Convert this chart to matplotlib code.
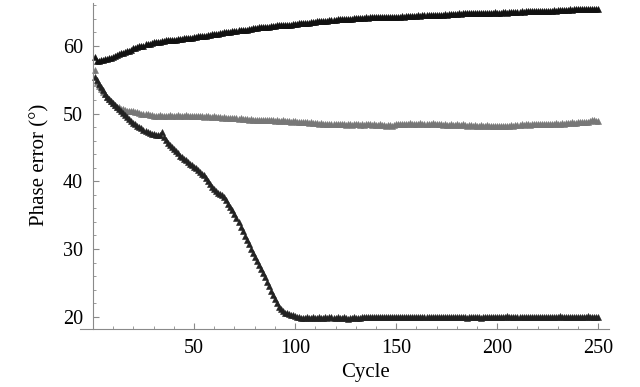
import numpy as np
import matplotlib
matplotlib.use('Agg')
import matplotlib.pyplot as plt
from matplotlib.ticker import MultipleLocator

# phase error per cycle (cycles 1..250)
upper = [58.3, 57.8, 57.8, 57.9, 57.9, 58.0, 58.1, 58.2, 58.2, 58.4,
         58.5, 58.6, 58.8, 59.0, 59.0, 59.1, 59.3, 59.3, 59.4, 59.6,
         59.7, 59.8, 59.9, 60.0, 60.0, 60.2, 60.3, 60.3, 60.4, 60.5,
         60.5, 60.6, 60.6, 60.7, 60.7, 60.8, 60.8, 60.8, 60.9, 60.9,
         60.9, 61.0, 61.0, 61.0, 61.1, 61.1, 61.1, 61.2, 61.2, 61.3,
         61.3, 61.4, 61.4, 61.4, 61.5, 61.5, 61.6, 61.6, 61.7, 61.7,
         61.8, 61.8, 61.9, 61.9, 62.0, 62.0, 62.1, 62.1, 62.2, 62.2,
         62.2, 62.3, 62.3, 62.4, 62.4, 62.4, 62.5, 62.5, 62.6, 62.6,
         62.6, 62.7, 62.7, 62.7, 62.8, 62.8, 62.8, 62.9, 62.9, 62.9,
         63.0, 63.0, 63.0, 63.0, 63.1, 63.1, 63.1, 63.1, 63.2, 63.2,
         63.2, 63.3, 63.3, 63.3, 63.4, 63.4, 63.4, 63.5, 63.5, 63.5,
         63.6, 63.6, 63.6, 63.7, 63.7, 63.7, 63.8, 63.8, 63.8, 63.8,
         63.9, 63.9, 63.9, 63.9, 64.0, 64.0, 64.0, 64.0, 64.1, 64.1,
         64.1, 64.1, 64.1, 64.1, 64.2, 64.1, 64.2, 64.2, 64.2, 64.2,
         64.2, 64.2, 64.2, 64.3, 64.2, 64.3, 64.3, 64.3, 64.3, 64.3,
         64.3, 64.3, 64.4, 64.3, 64.4, 64.4, 64.4, 64.4, 64.4, 64.4,
         64.5, 64.4, 64.5, 64.5, 64.5, 64.5, 64.5, 64.6, 64.5, 64.6,
         64.6, 64.6, 64.6, 64.7, 64.6, 64.7, 64.7, 64.7, 64.7, 64.7,
         64.8, 64.7, 64.8, 64.8, 64.8, 64.8, 64.8, 64.9, 64.8, 64.9,
         64.9, 64.9, 64.9, 64.9, 64.9, 64.9, 64.9, 64.9, 65.0, 64.9,
         64.9, 64.9, 65.0, 65.0, 64.9, 65.0, 65.0, 65.0, 65.0, 65.0,
         65.0, 65.1, 65.0, 65.1, 65.1, 65.1, 65.1, 65.1, 65.1, 65.2,
         65.1, 65.2, 65.2, 65.2, 65.2, 65.2, 65.2, 65.3, 65.2, 65.3,
         65.3, 65.3, 65.3, 65.3, 65.3, 65.4, 65.3, 65.4, 65.4, 65.4,
         65.4, 65.4, 65.4, 65.5, 65.4, 65.5, 65.5, 65.4, 65.5, 65.5]

middle = [56.4, 54.6, 54.0, 53.6, 53.2, 52.9, 52.5, 52.2, 51.9, 51.6,
          51.3, 51.0, 50.9, 50.7, 50.6, 50.5, 50.4, 50.4, 50.3, 50.3,
          50.2, 50.2, 50.1, 50.0, 50.0, 49.9, 49.9, 49.8, 49.8, 49.7,
          49.7, 49.7, 49.8, 49.6, 49.7, 49.7, 49.6, 49.8, 49.7, 49.6,
          49.7, 49.8, 49.7, 49.6, 49.7, 49.8, 49.7, 49.6, 49.7, 49.7,
          49.6, 49.6, 49.7, 49.6, 49.5, 49.6, 49.6, 49.5, 49.5, 49.6,
          49.5, 49.5, 49.5, 49.4, 49.5, 49.4, 49.4, 49.3, 49.4, 49.3,
          49.3, 49.2, 49.3, 49.2, 49.2, 49.2, 49.1, 49.2, 49.1, 49.1,
          49.1, 49.0, 49.1, 49.0, 49.0, 49.1, 49.0, 49.0, 49.0, 48.9,
          49.0, 48.9, 48.9, 49.0, 48.9, 48.9, 48.9, 48.8, 48.9, 48.9,
          48.8, 48.8, 48.7, 48.8, 48.7, 48.7, 48.6, 48.7, 48.6, 48.6,
          48.6, 48.5, 48.6, 48.5, 48.5, 48.5, 48.4, 48.5, 48.5, 48.4,
          48.4, 48.5, 48.4, 48.4, 48.3, 48.4, 48.4, 48.3, 48.4, 48.4,
          48.4, 48.3, 48.4, 48.3, 48.4, 48.5, 48.4, 48.3, 48.4, 48.3,
          48.3, 48.4, 48.3, 48.3, 48.2, 48.3, 48.3, 48.2, 48.3, 48.4,
          48.4, 48.5, 48.4, 48.5, 48.4, 48.5, 48.6, 48.5, 48.4, 48.5,
          48.5, 48.6, 48.5, 48.5, 48.4, 48.5, 48.5, 48.6, 48.5, 48.5,
          48.4, 48.4, 48.3, 48.4, 48.3, 48.3, 48.4, 48.3, 48.3, 48.4,
          48.3, 48.3, 48.4, 48.3, 48.2, 48.3, 48.3, 48.2, 48.3, 48.2,
          48.2, 48.3, 48.2, 48.2, 48.3, 48.2, 48.2, 48.1, 48.2, 48.2,
          48.2, 48.1, 48.2, 48.2, 48.1, 48.2, 48.3, 48.2, 48.3, 48.3,
          48.3, 48.4, 48.3, 48.4, 48.4, 48.3, 48.4, 48.4, 48.5, 48.4,
          48.4, 48.5, 48.4, 48.5, 48.5, 48.4, 48.5, 48.5, 48.6, 48.5,
          48.5, 48.6, 48.5, 48.6, 48.6, 48.6, 48.7, 48.6, 48.6, 48.7,
          48.7, 48.7, 48.8, 48.7, 48.8, 48.9, 49.0, 49.1, 48.9, 48.9]

lower = [55.4, 54.9, 54.4, 53.9, 53.4, 52.9, 52.5, 52.1, 51.8, 51.5,
         51.2, 50.9, 50.6, 50.4, 50.1, 49.8, 49.5, 49.2, 48.9, 48.6,
         48.4, 48.2, 48.0, 47.8, 47.6, 47.4, 47.2, 47.1, 47.0, 47.0,
         46.9, 46.9, 46.8, 47.2, 46.5, 46.1, 45.6, 45.3, 45.0, 44.7,
         44.4, 44.1, 43.8, 43.6, 43.3, 43.1, 42.9, 42.6, 42.4, 42.1,
         41.9, 41.6, 41.4, 41.1, 40.9, 40.5, 40.1, 39.6, 39.2, 38.9,
         38.6, 38.3, 38.1, 37.9, 37.7, 37.2, 36.7, 36.2, 35.7, 35.2,
         34.6, 34.0, 33.3, 32.6, 31.9, 31.3, 30.7, 30.0, 29.4, 28.8,
         28.2, 27.6, 27.0, 26.5, 25.9, 25.2, 24.5, 23.8, 23.2, 22.6,
         22.0, 21.5, 21.1, 20.8, 20.6, 20.5, 20.4, 20.3, 20.2, 20.1,
         19.9, 19.9, 19.8, 19.8, 19.8, 19.9, 19.8, 19.8, 19.9, 19.8,
         19.8, 19.9, 19.8, 19.8, 19.9, 19.8, 19.9, 19.9, 19.8, 19.8,
         19.9, 19.8, 19.8, 19.9, 19.8, 19.7, 19.8, 19.8, 19.9, 19.8,
         19.8, 19.8, 20.0, 20.0, 19.9, 20.0, 19.9, 20.0, 20.0, 19.9,
         20.0, 19.9, 19.9, 20.0, 19.9, 20.0, 20.0, 19.9, 19.9, 20.0,
         19.9, 19.9, 20.0, 19.9, 19.9, 20.0, 19.9, 19.9, 20.0, 19.9,
         20.0, 19.9, 19.9, 20.0, 19.9, 19.9, 20.0, 19.9, 20.0, 19.9,
         19.9, 20.0, 19.9, 19.9, 20.0, 19.9, 19.9, 19.9, 20.0, 19.9,
         19.9, 19.9, 20.0, 19.9, 19.8, 19.9, 19.9, 20.0, 19.9, 19.9,
         19.9, 19.8, 19.9, 20.0, 19.9, 19.9, 20.0, 19.9, 19.9, 20.0,
         19.9, 19.9, 20.0, 19.9, 20.1, 19.9, 20.0, 19.9, 19.9, 20.0,
         19.9, 20.0, 19.9, 20.0, 19.9, 20.0, 19.9, 19.9, 20.0, 19.9,
         19.9, 20.0, 19.9, 19.9, 20.0, 19.9, 19.9, 20.0, 20.0, 20.0,
         20.1, 20.0, 20.0, 19.9, 20.0, 19.9, 20.0, 20.0, 19.9, 20.0,
         20.0, 19.9, 20.0, 20.0, 20.1, 20.0, 19.9, 20.0, 20.0, 19.9]

cycles = np.arange(1, len(upper) + 1)

plt.rcParams['font.family'] = ['Liberation Serif', 'DejaVu Serif']

fig = plt.figure(figsize=(6.4, 3.87), dpi=100)
ax = fig.add_axes([0.125, 0.15, 0.827, 0.842])

ms = 3.9
ax.plot(cycles, middle, ls='none', marker='^', ms=ms, color='#777777', mec='#777777', mew=0.4)
ax.plot(cycles, upper, ls='none', marker='^', ms=ms, color='#111111', mec='#111111', mew=0.4)
ax.plot(cycles, lower, ls='none', marker='^', ms=ms, color='#222222', mec='#222222', mew=0.4)

ax.set_xlim(-6.4, 255.4)
ax.set_ylim(18.2, 66.3)

axcol = '#8a8a8a'
for s in ['top', 'right']:
    ax.spines[s].set_visible(False)
ax.spines['left'].set_position(('data', 0))
ax.spines['left'].set_color(axcol)
ax.spines['bottom'].set_color(axcol)

ax.set_xticks([50, 100, 150, 200, 250])
ax.set_yticks([20, 30, 40, 50, 60])
ax.xaxis.set_minor_locator(MultipleLocator(10))
ax.yaxis.set_minor_locator(MultipleLocator(2))
ax.tick_params(which='both', direction='in', color=axcol, labelsize=14.5, labelcolor='black')
ax.tick_params(which='major', length=4.5, width=0.8, pad=7)
ax.tick_params(which='minor', length=2.5, width=0.6)

fig.text(40 / 640, 1 - 165 / 387, 'Phase error (°)', rotation=90, ha='center', va='center', fontsize=15)
fig.text(365 / 640, 1 - 373 / 387, 'Cycle', ha='center', va='center', fontsize=15)

fig.savefig('out.png', dpi=100)
